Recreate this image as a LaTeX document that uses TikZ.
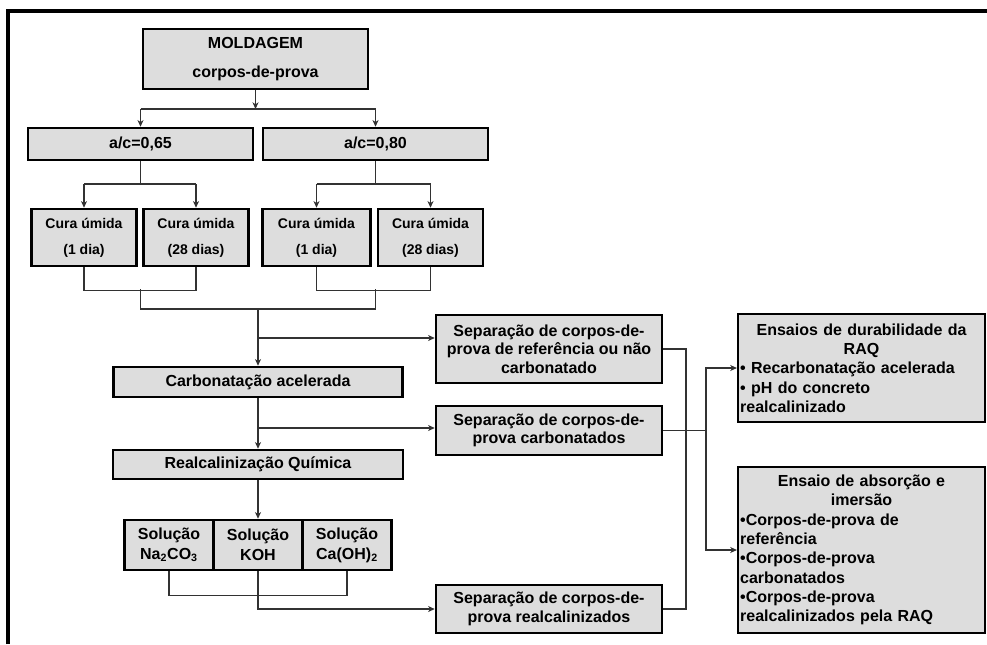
\documentclass[tikz,border=0pt]{standalone}
\usepackage{fontspec}
\setmainfont{Liberation Sans}
\usepackage{xcolor}
\usetikzlibrary{arrows.meta,positioning,calc}
\setlength{\parindent}{0pt}
\definecolor{boxgray}{RGB}{221,221,221}
\definecolor{linegray}{RGB}{50,50,50}

\begin{document}
\begin{tikzpicture}[x=0.75pt,y=-0.75pt,
    box/.style={draw=black,line width=1.9pt,fill=boxgray,inner sep=1.5pt,align=center,
      font=\fontsize{12}{13.8}\selectfont\bfseries},
    link/.style={draw=linegray,line width=0.8pt},
    arr/.style={link,-{Stealth[length=5pt,width=4.5pt,inset=1.5pt]}}]
    \useasboundingbox (0,0) rectangle (987,644);
    % Frame
    \draw[line width=2.3pt] (8,644) -- (8,11) -- (987,11);
    % Moldagem
    \node[box,minimum width=168.75pt,minimum height=45pt,font=\fontsize{12}{21.75}\selectfont\bfseries] (mold) at (255.5,59) {MOLDAGEM\\corpos-de-prova};
    % Water/cement ratios
    \node[box,minimum width=168.75pt,minimum height=24pt] (ac65) at (140.5,144) {a/c=0,65};
    \node[box,minimum width=168.75pt,minimum height=24pt] (ac80) at (375.5,144) {a/c=0,80};
    % Curing
    \tikzset{cura/.style={box,minimum width=78.75pt,minimum height=42.75pt,font=\fontsize{10.5}{19.5}\selectfont\bfseries}}
    \node[cura] (cura1) at (84,237.5) {Cura úmida\\(1 dia)};
    \node[cura] (cura2) at (196,237.5) {Cura úmida\\(28 dias)};
    \node[cura,minimum width=81pt] (cura3) at (316.5,237.5) {Cura úmida\\(1 dia)};
    \node[cura] (cura4) at (430.5,237.5) {Cura úmida\\(28 dias)};
    % Main column
    \node[box,minimum width=216.75pt,minimum height=22.5pt] (carb) at (258,382) {Carbonatação acelerada};
    \node[box,minimum width=217.5pt,minimum height=21.75pt] (realc) at (258,464.5) {Realcalinização Química};
    % Solutions
    \tikzset{sol/.style={box,minimum width=66.75pt,minimum height=37.5pt,font=\fontsize{12}{15}\selectfont\bfseries}}
    \node[sol] (sol1) at (169,545) {Solução\\Na\textsubscript{2}CO\textsubscript{3}};
    \node[sol] (sol2) at (258,545) {Solução\\KOH};
    \node[sol] (sol3) at (347,545) {Solução\\Ca(OH)\textsubscript{2}};
    % Separated specimens
    \node[box,minimum width=169.5pt,minimum height=51pt] (sep1) at (549,349) {Separação de corpos-de-\\prova de referência ou não\\carbonatado};
    \node[box,minimum width=169.5pt,minimum height=36.75pt] (sep2) at (549,430.5) {Separação de corpos-de-\\prova carbonatados};
    \node[box,minimum width=169.5pt,minimum height=36pt] (sep3) at (549,609) {Separação de corpos-de-\\prova realcalinizados};
    % Tests
    \tikzset{test/.style={box,text width=182pt,align=left,font=\fontsize{12}{14.5}\selectfont\bfseries}}
    \node[test,minimum height=81pt] (durab) at (861.5,368) {{\centering Ensaios de durabilidade da\\RAQ\par}• Recarbonatação acelerada\\• pH do concreto\\realcalinizado};
    \node[test,minimum height=124.5pt] (absorc) at (861.5,550) {{\centering Ensaio de absorção e\\imersão\par}•Corpos-de-prova de\\referência\\•Corpos-de-prova\\carbonatados\\•Corpos-de-prova\\realcalinizados pela RAQ};

    % Moldagem -> a/c
    \coordinate (s0) at (255.5,109);
    \draw[arr] (mold) -- (s0);
    \draw[link] (ac65.north |- s0) -- (ac80.north |- s0);
    \draw[arr] (ac65.north |- s0) -- (ac65.north);
    \draw[arr] (ac80.north |- s0) -- (ac80.north);
    % a/c -> curing
    \coordinate (s1) at (140.5,184);
    \coordinate (s2) at (375.5,184);
    \draw[link] (ac65) -- (s1);
    \draw[link] (ac80) -- (s2);
    \draw[link] (cura1.north |- s1) -- (cura2.north |- s1);
    \draw[link] (cura3.north |- s2) -- (cura4.north |- s2);
    \draw[arr] (cura1.north |- s1) -- (cura1.north);
    \draw[arr] (cura2.north |- s1) -- (cura2.north);
    \draw[arr] (cura3.north |- s2) -- (cura3.north);
    \draw[arr] (cura4.north |- s2) -- (cura4.north);
    % Curing -> carbonation
    \draw[link] (cura1.south) -- ++(0,23) -| (cura2.south);
    \draw[link] (cura3.south) -- ++(0,23) -| (cura4.south);
    \coordinate (j1) at (140.5,289);
    \coordinate (j2) at (375.5,289);
    \coordinate (j0) at (258,309);
    \draw[link] (j1) |- (j0) -| (j2);
    \draw[arr] (j0) -- (carb.north);
    \coordinate (b1) at (258,338);
    \draw[arr] (b1) -- (b1 -| sep1.west);
    % Carbonation -> realkalisation
    \draw[arr] (carb.south) -- (realc.north);
    \coordinate (b2) at (258,428);
    \draw[arr] (b2) -- (b2 -| sep2.west);
    \draw[arr] (realc.south) -- (sol2.north);
    % Solutions
    \draw[link] (sol1.south) -- ++(0,24) -| (sol3.south);
    \draw[arr] (sol2.south) |- (sep3.west);
    % Separated -> tests
    \coordinate (r1) at (686,0);
    \draw[link] (sep1.east) -- (sep1.east -| r1) |- (sep3.east);
    \coordinate (jn) at (706,430.5);
    \draw[link] (sep2.east) -- (jn);
    \draw[arr] (jn) |- (durab.west);
    \draw[arr] (jn) |- (absorc.west);
\end{tikzpicture}
\end{document}
